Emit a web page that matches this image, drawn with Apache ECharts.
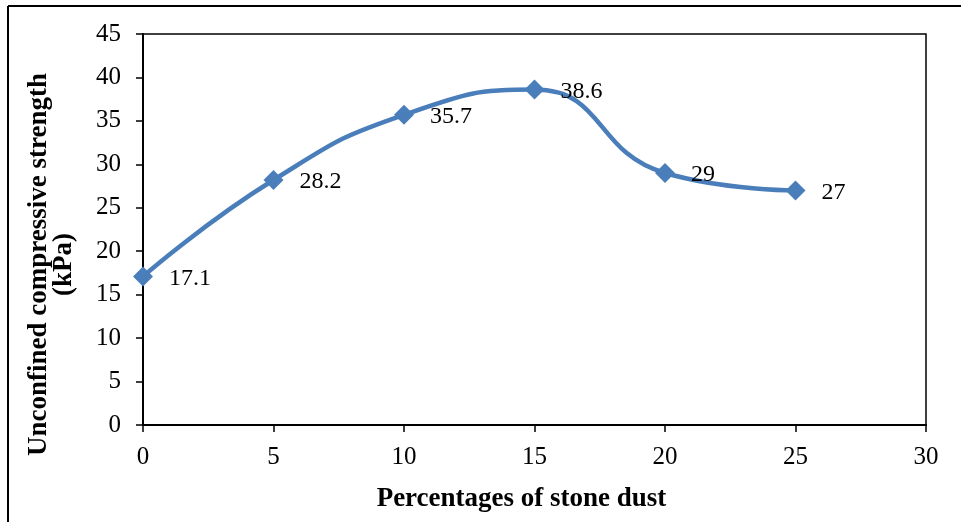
<!DOCTYPE html>
<html>
<head>
<meta charset="utf-8">
<script src="https://cdn.jsdelivr.net/npm/echarts@6/dist/echarts.min.js"></script>
<style>
  html, body { margin: 0; padding: 0; background: #fff; }
  #chart { width: 961px; height: 522px; }
</style>
</head>
<body>
<div id="chart"></div>
<script>
// percentages of stone dust vs UCS (kPa)
const stoneDust = [0, 5, 10, 15, 20, 25];
const strength = [17.1, 28.2, 35.7, 38.6, 29, 27];
const xTicks = [0, 5, 10, 15, 20, 25, 30];

const chart = echarts.init(document.getElementById('chart'));
const font = '"Liberation Serif", "Times New Roman", serif';

chart.setOption({
    animation: false,
    backgroundColor: '#fff',
    textStyle: { fontFamily: font },
    graphic: [
        { type: 'line', shape: { x1: 8, y1: 6, x2: 961, y2: 6 }, style: { stroke: '#000', lineWidth: 2 } },
        { type: 'line', shape: { x1: 8, y1: 6, x2: 8, y2: 522 }, style: { stroke: '#000', lineWidth: 2 } }
    ],
    grid: { left: 143, right: 35, top: 33, bottom: 97, show: true, borderColor: '#000', borderWidth: 1.5 },
    xAxis: {
        type: 'value',
        min: 0, max: 30, interval: 5,
        name: 'Percentages of stone dust',
        nameLocation: 'middle',
        nameGap: 61,
        nameTextStyle: { fontFamily: font, fontWeight: 'bold', fontSize: 27, color: '#000', padding: [0, 26, 0, 0] },
        axisLine: { lineStyle: { color: '#000', width: 2 } },
        axisTick: { inside: false, length: 7, lineStyle: { color: '#000', width: 1.5 } },
        axisLabel: { fontFamily: font, fontSize: 25, color: '#000', margin: 20,
            formatter: v => xTicks.includes(v) ? String(v) : '' },
        splitLine: { show: false }
    },
    yAxis: {
        type: 'value',
        min: 0, max: 45, interval: 5,
        name: 'Unconfined compressive strength\n(kPa)',
        nameLocation: 'middle',
        nameGap: 66,
        nameTextStyle: { fontFamily: font, fontWeight: 'bold', fontSize: 27, color: '#000', lineHeight: 25, padding: [0, 70, 0, 0] },
        axisLine: { lineStyle: { color: '#000', width: 2 } },
        axisTick: { inside: false, length: 7, lineStyle: { color: '#000', width: 1.5 } },
        axisLabel: { fontFamily: font, fontSize: 25, color: '#000', margin: 22 },
        splitLine: { show: false }
    },
    series: [{
        type: 'line',
        data: stoneDust.map((x, i) => [x, strength[i]]),
        smooth: 0.5,
        symbol: 'diamond',
        symbolSize: 20,
        lineStyle: { color: '#4a7ebb', width: 4.5 },
        itemStyle: { color: '#4a7ebb' },
        label: {
            show: true,
            position: 'right',
            distance: 16,
            offset: [0, 2],
            fontFamily: font,
            fontSize: 24,
            color: '#000',
            formatter: p => String(p.value[1])
        }
    }]
});
</script>
</body>
</html>
